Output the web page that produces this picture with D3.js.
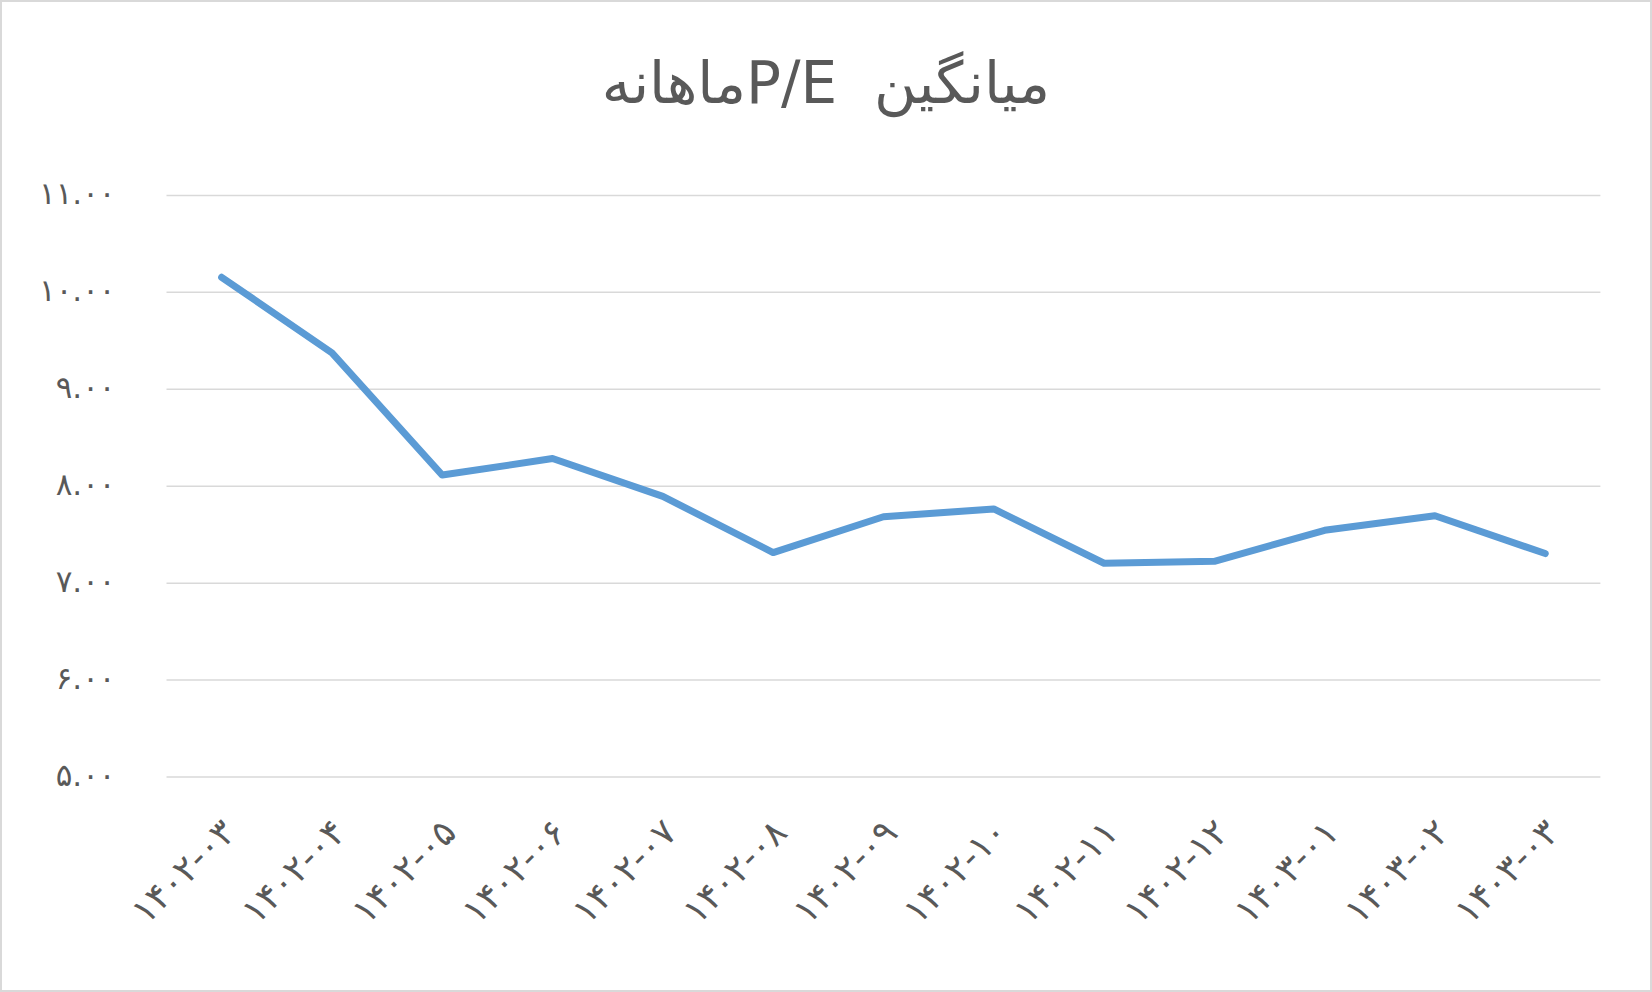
<!DOCTYPE html>
<html><head><meta charset="utf-8">
<script src="https://cdn.jsdelivr.net/npm/d3@7"></script>
<style>body{margin:0;background:#fff;overflow:hidden}</style>
</head><body><svg id="c" width="1652" height="992"></svg>
<script>
const categories = ["۱۴۰۲-۰۳","۱۴۰۲-۰۴","۱۴۰۲-۰۵","۱۴۰۲-۰۶","۱۴۰۲-۰۷","۱۴۰۲-۰۸","۱۴۰۲-۰۹","۱۴۰۲-۱۰","۱۴۰۲-۱۱","۱۴۰۲-۱۲","۱۴۰۳-۰۱","۱۴۰۳-۰۲","۱۴۰۳-۰۳"];
const peValues = [10.15, 9.37, 8.11, 8.28, 7.89, 7.31, 7.68, 7.76, 7.20, 7.22, 7.54, 7.69, 7.30];
const yTicks = [5, 6, 7, 8, 9, 10, 11];
const yTickLabels = ["۵.۰۰","۶.۰۰","۷.۰۰","۸.۰۰","۹.۰۰","۱۰.۰۰","۱۱.۰۰"];
const titleText = "میانگین  P/Eماهانه";

const W = 1652, H = 992;
const m = {left: 166.5, right: 1600.4, top: 194.9, bottom: 776.5};
const svg = d3.select("#c");
svg.append("rect").attr("x",1).attr("y",1).attr("width",W-2).attr("height",H-2)
  .attr("fill","#fff").attr("stroke","#d9d9d9").attr("stroke-width",2);

const x = d3.scaleBand().domain(categories).range([m.left, m.right]);
const y = d3.scaleLinear().domain([5, 11]).range([m.bottom, m.top]);
const font = "'DejaVu Sans', sans-serif";

// gridlines
const grid = svg.append("g").attr("transform",`translate(${m.left},0)`)
  .call(d3.axisLeft(y).tickValues(yTicks).tickSize(-(m.right-m.left)).tickFormat(""));
grid.select(".domain").remove();
grid.selectAll(".tick line").attr("stroke","#d9d9d9").attr("stroke-width",1.5);

// y labels
const yAx = svg.append("g").attr("transform",`translate(${m.left-51},0)`)
  .call(d3.axisLeft(y).tickValues(yTicks).tickSize(0).tickPadding(0)
    .tickFormat(d=>yTickLabels[yTicks.indexOf(d)]));
yAx.select(".domain").remove();
yAx.selectAll("text").attr("font-family",font).attr("font-size",31)
  .attr("letter-spacing",1.5).attr("fill","#595959").attr("dy","0.28em");

// x labels
const xAx = svg.append("g").attr("transform",`translate(0,${m.bottom})`)
  .call(d3.axisBottom(x).tickSize(0).tickPadding(0));
xAx.select(".domain").remove();
xAx.selectAll("text").attr("font-family",font).attr("font-size",36)
  .attr("letter-spacing",6.5).attr("fill","#595959")
  .attr("text-anchor","end").attr("dy",0).attr("y",0)
  .attr("transform","translate(16,58) rotate(-45)");

// line
const line = d3.line().x((d,i)=>x(categories[i])+x.bandwidth()/2).y(d=>y(d));
svg.append("path").datum(peValues).attr("d",line).attr("fill","none")
  .attr("stroke","#5b9bd5").attr("stroke-width",7)
  .attr("stroke-linecap","round").attr("stroke-linejoin","round");

// title
svg.append("text").attr("x",W/2).attr("y",103).attr("text-anchor","middle")
  .attr("direction","rtl").style("white-space","pre").attr("xml:space","preserve")
  .attr("font-family",font).attr("font-size",58)
  .attr("fill","#595959").text(titleText);
</script></body></html>
